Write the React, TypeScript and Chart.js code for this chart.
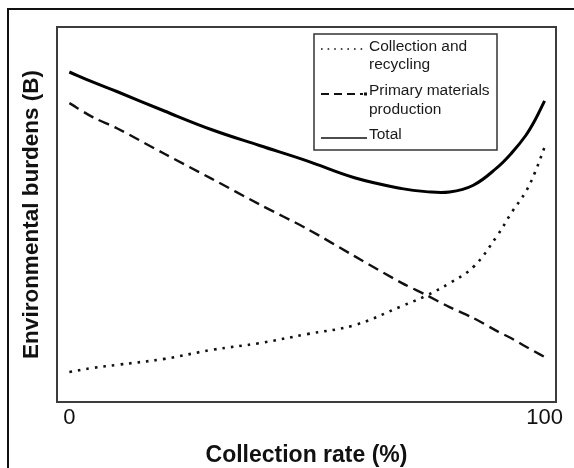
import React, { useEffect, useRef } from "react";
import { Chart, registerables } from "chart.js";

Chart.register(...registerables);

// ---- data ----
const collectionRate = [0, 5, 10, 20, 30, 40, 50, 60, 70, 75, 80, 85, 90, 93, 96, 98, 100];
const collectionAndRecycling = [8.0, 9.1, 9.9, 11.5, 13.9, 15.7, 18.1, 20.5, 25.6, 28.3, 31.7, 36.0, 44.3, 50.4, 56.0, 61.3, 68.0];
const primaryProduction = [79.7, 75.9, 73.0, 66.2, 59.5, 52.7, 46.2, 38.9, 31.7, 28.6, 25.3, 22.4, 18.9, 17.0, 14.8, 13.4, 12.0];
const totalBurden = [88.0, 85.3, 82.8, 77.6, 72.6, 68.4, 64.3, 59.8, 56.9, 56.1, 56.0, 57.8, 62.5, 66.3, 71.0, 75.2, 80.3];

const tickValues = [0, 100];
const tickLabels = ["0", "100"];
const seriesNames = [
  ["Collection and", "recycling"],
  ["Primary materials", "production"],
  ["Total"],
];
const xTitle = "Collection rate (%)";
const yTitle = "Environmental burdens (B)";

const FONT = "'Liberation Sans', Arial, sans-serif";

const toPoints = (ys: number[]) => collectionRate.map((x, i) => ({ x, y: ys[i] }));

const framePlugin = {
  id: "frame",
  afterDraw(chart: any) {
    const { ctx, chartArea: ca } = chart;
    ctx.save();
    ctx.strokeStyle = "#3c3c3c";
    ctx.lineWidth = 2;
    ctx.strokeRect(ca.left, ca.top, ca.right - ca.left, ca.bottom - ca.top);
    ctx.restore();
  },
};

const legendPlugin = {
  id: "boxLegend",
  afterDraw(chart: any) {
    const { ctx } = chart;
    ctx.save();
    ctx.fillStyle = "#fff";
    ctx.fillRect(305, 24, 183, 116);
    ctx.strokeStyle = "#333";
    ctx.lineWidth = 1.5;
    ctx.strokeRect(305, 24, 183, 116);

    const lx0 = 312;
    const lx1 = 358;
    const tx = 360;
    ctx.strokeStyle = "#111";
    ctx.lineCap = "butt";
    ctx.lineWidth = 1.6;
    ctx.setLineDash([1.6, 5]);
    ctx.beginPath();
    ctx.moveTo(lx0, 39);
    ctx.lineTo(lx1, 39);
    ctx.stroke();
    ctx.lineWidth = 2;
    ctx.setLineDash([8, 5]);
    ctx.beginPath();
    ctx.moveTo(lx0, 84);
    ctx.lineTo(lx1 - 4, 84);
    ctx.stroke();
    ctx.setLineDash([]);
    ctx.fillStyle = "#111";
    ctx.fillRect(lx1 - 3, 82.5, 3, 3);
    ctx.lineWidth = 1.6;
    ctx.beginPath();
    ctx.moveTo(lx0, 128);
    ctx.lineTo(lx1, 128);
    ctx.stroke();

    ctx.fillStyle = "#1a1a1a";
    ctx.font = `15.5px ${FONT}`;
    ctx.textBaseline = "middle";
    ctx.textAlign = "left";
    const rows = [
      [37, 55],
      [81, 100],
      [125],
    ];
    seriesNames.forEach((lines, i) => {
      lines.forEach((t, j) => ctx.fillText(t, tx, rows[i][j]));
    });
    ctx.restore();
  },
};

export default function App() {
  const ref = useRef<HTMLCanvasElement | null>(null);

  useEffect(() => {
    if (!ref.current) return;
    const chart = new Chart(ref.current, {
      type: "line",
      data: {
        datasets: [
          {
            label: seriesNames[0].join(" "),
            data: toPoints(collectionAndRecycling),
            borderColor: "#111",
            borderWidth: 2.6,
            borderDash: [2.6, 6],
            pointRadius: 0,
            tension: 0.4,
            fill: false,
          },
          {
            label: seriesNames[1].join(" "),
            data: toPoints(primaryProduction),
            borderColor: "#111",
            borderWidth: 2.4,
            borderDash: [11, 6],
            pointRadius: 0,
            tension: 0.3,
            fill: false,
          },
          {
            label: seriesNames[2].join(" "),
            data: toPoints(totalBurden),
            borderColor: "#000",
            borderWidth: 3,
            pointRadius: 0,
            tension: 0.4,
            fill: false,
          },
        ],
      },
      options: {
        animation: false,
        responsive: false,
        maintainAspectRatio: false,
        layout: { padding: { left: 0, right: 18, top: 17, bottom: 0 } },
        plugins: {
          legend: { display: false },
          tooltip: { enabled: false },
        },
        scales: {
          x: {
            type: "linear",
            min: -2.6,
            max: 102.4,
            afterBuildTicks: (s: any) => {
              s.ticks = tickValues.map((v) => ({ value: v }));
            },
            afterFit: (s: any) => {
              s.height = 66;
            },
            grid: { display: false, drawTicks: false },
            border: { display: false },
            ticks: {
              padding: 3,
              color: "#111",
              font: { family: FONT, size: 22 },
              maxRotation: 0,
              autoSkip: false,
              callback: (v: any) => {
                const i = tickValues.indexOf(Number(v));
                return i >= 0 ? tickLabels[i] : "";
              },
            },
            title: {
              display: true,
              text: xTitle,
              color: "#111",
              font: { family: FONT, size: 23, weight: "bold", lineHeight: 1 },
              padding: { top: 0, bottom: 1 },
            },
          },
          y: {
            type: "linear",
            min: 0,
            max: 100,
            afterFit: (s: any) => {
              s.width = 48;
            },
            grid: { display: false, drawTicks: false },
            border: { display: false },
            ticks: { display: false },
            title: {
              display: true,
              text: yTitle,
              color: "#111",
              font: { family: FONT, size: 22.5, weight: "bold" },
              padding: { top: 9, bottom: 0 },
            },
          },
        },
      },
      plugins: [framePlugin, legendPlugin],
    });
    return () => chart.destroy();
  }, []);

  return (
    <div
      style={{
        position: "fixed",
        left: 7,
        top: 8,
        width: 700,
        height: 600,
        borderLeft: "2px solid #111",
        borderTop: "2px solid #111",
        background: "#fff",
      }}
    >
      <canvas ref={ref} width={565} height={458} style={{ display: "block", width: 565, height: 458 }} />
    </div>
  );
}
